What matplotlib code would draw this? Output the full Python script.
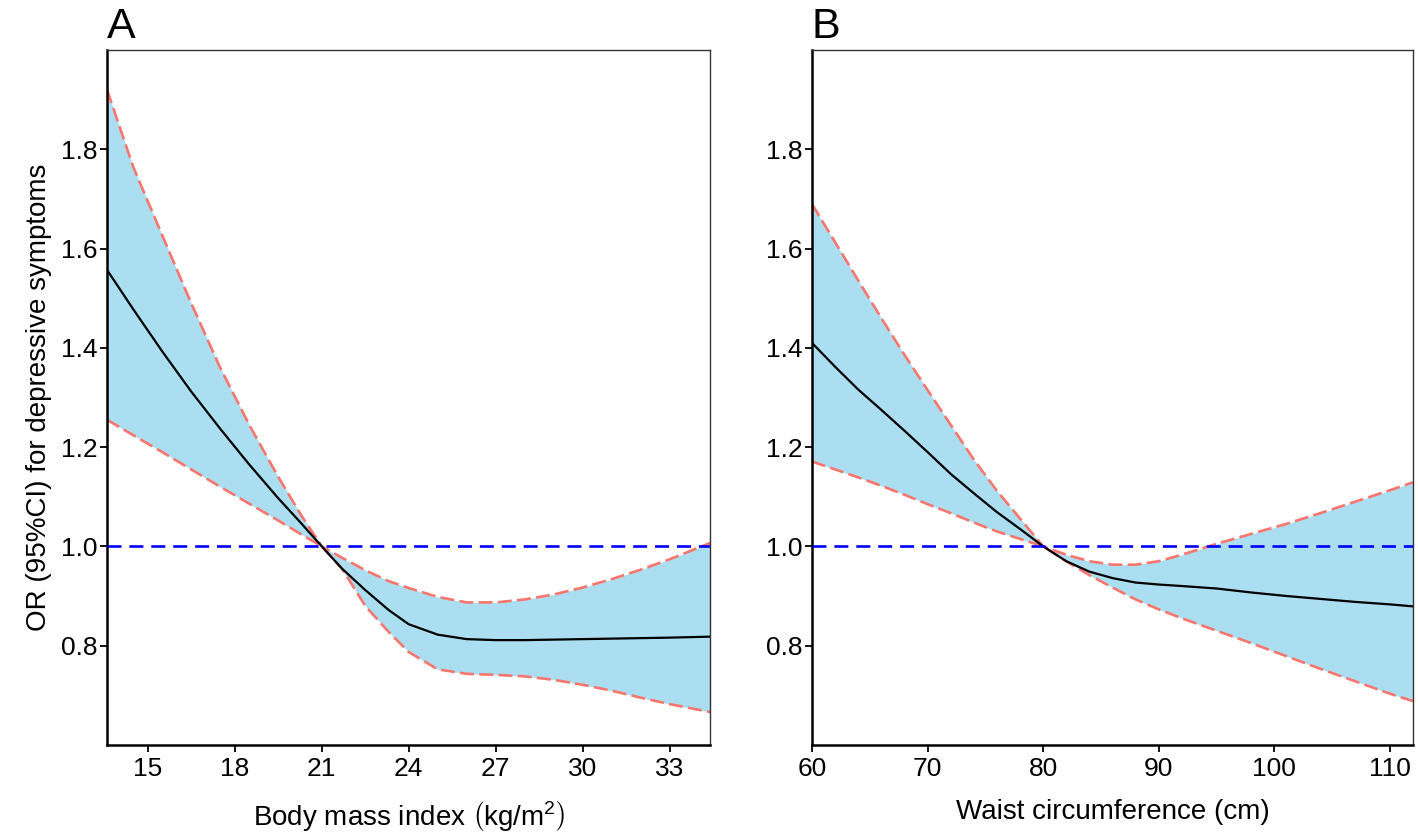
import matplotlib
matplotlib.use("Agg")
import matplotlib.pyplot as plt

plt.rcParams["font.family"] = ["Liberation Sans", "DejaVu Sans"]
plt.rcParams["mathtext.fontset"] = "custom"
plt.rcParams["mathtext.rm"] = "Liberation Sans"
plt.rcParams["mathtext.it"] = "Liberation Sans:italic"

# panel A: body mass index
bmi = [13.6, 14.5, 15.5, 16.5, 17.5, 18.5, 19.5, 20.3, 21, 21.7, 22.5, 23.3,
       24, 25, 26, 27, 28, 29, 30, 31, 32, 33, 34.4]
bmi_or = [1.557, 1.478, 1.393, 1.312, 1.237, 1.165, 1.097, 1.046, 1.0, 0.955, 0.912, 0.872,
          0.843, 0.822, 0.813, 0.811, 0.811, 0.812, 0.813, 0.814, 0.815, 0.816, 0.818]
bmi_upper = [1.92, 1.765, 1.627, 1.49, 1.36, 1.245, 1.14, 1.062, 1.0, 0.977, 0.952, 0.93,
             0.916, 0.898, 0.887, 0.887, 0.893, 0.903, 0.917, 0.934, 0.953, 0.974, 1.007]
bmi_lower = [1.255, 1.224, 1.19, 1.155, 1.12, 1.086, 1.052, 1.024, 1.0, 0.955, 0.88, 0.828,
             0.787, 0.752, 0.743, 0.741, 0.738, 0.731, 0.721, 0.709, 0.695, 0.682, 0.666]

# panel B: waist circumference
wc = [60, 62, 64, 66, 68, 70, 72, 74, 76, 78, 80, 82, 84, 86, 88, 90, 92, 95,
      98, 101, 104, 107, 110, 112]
wc_or = [1.41, 1.362, 1.316, 1.275, 1.233, 1.19, 1.146, 1.107, 1.069, 1.035, 1.0, 0.97,
         0.949, 0.936, 0.927, 0.923, 0.92, 0.915, 0.907, 0.9, 0.894, 0.888, 0.883, 0.879]
wc_upper = [1.69, 1.613, 1.536, 1.46, 1.386, 1.315, 1.245, 1.175, 1.112, 1.056, 1.0, 0.983,
            0.97, 0.963, 0.963, 0.97, 0.983, 1.005, 1.025, 1.045, 1.067, 1.09, 1.113, 1.129]
wc_lower = [1.171, 1.155, 1.139, 1.122, 1.104, 1.085, 1.067, 1.048, 1.03, 1.015, 1.0, 0.97,
            0.942, 0.917, 0.893, 0.873, 0.855, 0.83, 0.805, 0.779, 0.753, 0.728, 0.703, 0.688]

bmi_ticks = [15, 18, 21, 24, 27, 30, 33]
wc_ticks = [60, 70, 80, 90, 100, 110]
y_ticks = [0.8, 1.0, 1.2, 1.4, 1.6, 1.8]

fig = plt.figure(figsize=(14.18, 8.35), dpi=100)
axA = fig.add_axes([0.0755, 0.108, 0.4255, 0.832])
axB = fig.add_axes([0.5726, 0.108, 0.4239, 0.832])

panels = [
    (axA, bmi, bmi_or, bmi_upper, bmi_lower, (13.6, 34.4), bmi_ticks,
     r"Body mass index $\left(\mathrm{kg/m^2}\right)$", "A"),
    (axB, wc, wc_or, wc_upper, wc_lower, (60, 112), wc_ticks,
     "Waist circumference (cm)", "B"),
]

for ax, x, mid, up, lo, xlim, xt, xlab, tag in panels:
    ax.fill_between(x, lo, up, color="#abdef0", lw=0, zorder=1)
    ax.plot(x, up, color="#f8766d", lw=1.9, dashes=(5.3, 2.0), zorder=2)
    ax.plot(x, lo, color="#f8766d", lw=1.9, dashes=(5.3, 2.0), zorder=2)
    ax.plot(x, mid, color="black", lw=1.6, zorder=3)
    ax.axhline(1.0, color="#0000ff", lw=1.9, dashes=(5.3, 3.0), zorder=4)
    ax.set_xlim(*xlim)
    ax.set_ylim(0.6, 2.0)
    ax.set_xticks(xt)
    ax.set_yticks(y_ticks)
    ax.set_yticklabels([f"{v:.1f}" for v in y_ticks])
    ax.tick_params(labelsize=19, length=5, width=1.3)
    ax.tick_params(axis="x", pad=4)
    ax.tick_params(axis="y", pad=2)
    ax.set_xlabel(xlab, fontsize=20, labelpad=13)
    for s in ["left", "bottom"]:
        ax.spines[s].set_linewidth(1.8)
        ax.spines[s].set_color("black")
    for s in ["top", "right"]:
        ax.spines[s].set_linewidth(1.0)
        ax.spines[s].set_color("#333333")
    ax.text(0.0, 1.017, tag, transform=ax.transAxes, fontsize=31,
            ha="left", va="baseline")

axA.set_ylabel("OR (95%CI) for depressive symptoms", fontsize=20, labelpad=6)

fig.savefig("out.png", dpi=100)
